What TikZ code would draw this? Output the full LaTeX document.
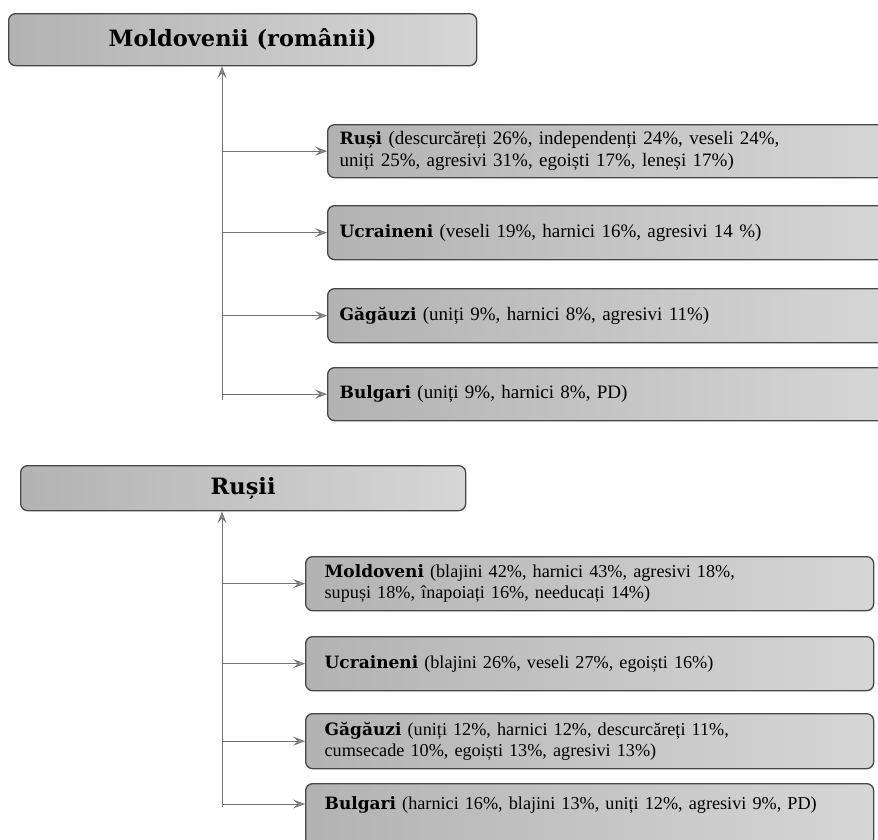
\documentclass[tikz,border=0pt]{standalone}
\usepackage{fontspec}
\setmainfont{Liberation Serif}
\newfontfamily\slab{DejaVu Serif}
\usetikzlibrary{arrows.meta}
\newcommand\nm[1]{{\slab\bfseries\fontsize{17}{22}\selectfont #1}}
\tikzset{
  box/.style={draw=black!72, line width=1.3pt, rounded corners=7pt,
    left color=black!30, right color=black!16, inner sep=0pt, anchor=north west},
  hdr/.style={box, font=\slab\bfseries\fontsize{22.5}{26}\selectfont, align=center},
  itemA/.style={box, text width=539pt, inner xsep=12pt, minimum height=53pt, align=left,
    font=\fontsize{19}{22}\selectfont},
  itemB/.style={box, text width=530pt, inner xsep=19pt, minimum height=54pt, align=left,
    font=\fontsize{18.2}{21.5}\selectfont},
  conn/.style={draw=black!55, line width=0.9pt,
    -{Stealth[length=12pt,width=9pt,inset=5pt,fill=black!40]}},
}
\begin{document}
\begin{tikzpicture}[x=1pt,y=-1pt]
\useasboundingbox (0,0) rectangle (878,839);
\clip (0,0) rectangle (878,839);
\fill[white] (0,0) rectangle (878,839);

% group 1
\node[hdr, minimum width=468pt, minimum height=52pt] (A) at (8,13) {Moldovenii (românii)};
\node[itemA] (a1) at (327,124) {\nm{Ruși} (descurcăreți 26\%, independenți 24\%, veseli 24\%,\\uniți 25\%, agresivi 31\%, egoiști 17\%, leneși 17\%)};
\node[itemA, minimum height=54pt] (a2) at (327,205) {\nm{Ucraineni} (veseli 19\%, harnici 16\%, agresivi 14 \%)};
\node[itemA, minimum height=54pt] (a3) at (327,288) {\nm{Găgăuzi} (uniți 9\%, harnici 8\%, agresivi 11\%)};
\node[itemA] (a4) at (327,367) {\nm{Bulgari} (uniți 9\%, harnici 8\%, PD)};
\coordinate (ta) at (222,400);
\draw[conn] (ta) -- (ta |- A.south);
\foreach \n in {a1,a2,a3,a4} \draw[conn] (ta |- \n.west) -- (\n.west);

% group 2
\node[hdr, minimum width=445pt, minimum height=45pt] (B) at (20,465) {Rușii};
\node[itemB] (b1) at (305,556) {\nm{Moldoveni} (blajini 42\%, harnici 43\%, agresivi 18\%,\\supuși 18\%, înapoiați 16\%, needucați 14\%)};
\node[itemB] (b2) at (305,636) {\nm{Ucraineni} (blajini 26\%, veseli 27\%, egoiști 16\%)};
\node[itemB, minimum height=55pt] (b3) at (305,713) {\nm{Găgăuzi} (uniți 12\%, harnici 12\%, descurcăreți 11\%,\\cumsecade 10\%, egoiști 13\%, agresivi 13\%)};
\node[itemB, minimum height=0pt, text height=26pt, text depth=36pt] (b4) at (305,783) {\nm{Bulgari} (harnici 16\%, blajini 13\%, uniți 12\%, agresivi 9\%, PD)};
\coordinate (tb) at (222,807);
\coordinate (tb4) at (222,804);
\draw[conn] (tb) -- (tb |- B.south);
\foreach \n in {b1,b2,b3} \draw[conn] (tb |- \n.west) -- (\n.west);
\draw[conn] (tb4) -- (tb4 -| b4.west);
\end{tikzpicture}
\end{document}
